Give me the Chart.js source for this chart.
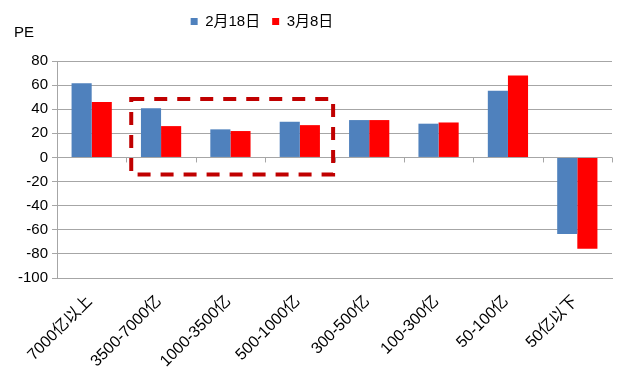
<!DOCTYPE html>
<html><head><meta charset="utf-8">
<script src="https://cdn.jsdelivr.net/npm/chart.js@4/dist/chart.umd.min.js"></script>
<style>
html,body{margin:0;padding:0;background:#fff;}
#wrap{position:relative;width:635px;height:381px;}
#pe{position:absolute;left:14px;top:23px;font:15px "Liberation Sans","Noto Sans CJK SC",sans-serif;color:#000;}
</style></head>
<body>
<div id="wrap"><canvas id="c" width="635" height="381"></canvas><div id="pe">PE</div></div>
<script>
const categories = ['7000亿以上','3500-7000亿','1000-3500亿','500-1000亿','300-500亿','100-300亿','50-100亿','50亿以下'];
const seriesNames = ['2月18日','3月8日'];
const feb18 = [61.6, 40.8, 23.3, 29.6, 31.0, 28.0, 55.3, -63.5];
const mar8 = [46.0, 26.0, 21.9, 26.8, 31.0, 29.0, 67.9, -75.8];
const yTicks = [80, 60, 40, 20, 0, -20, -40, -60, -80, -100];

// highlight box (annotation) in data units: category index range and value range
const boxRange = {x0: 0.57, x1: 3.48, y0: 48.5, y1: -14.2};

const FONT = '"Liberation Sans","Noto Sans CJK SC",sans-serif';

const legendSpace = {
  id: 'legendSpace',
  beforeInit(chart) {
    const fit = chart.legend.fit;
    chart.legend.fit = function () { fit.call(this); this.height += 24; };
  },
  afterLayout(chart) {
    chart.legend.left -= 44; chart.legend.right -= 44;
    chart.legend.top += 2; chart.legend.bottom += 2;
  }
};

const extras = {
  id: 'extras',
  afterDatasetsDraw(chart) {
    const ctx = chart.ctx, xs = chart.scales.x, ys = chart.scales.y;
    const z = ys.getPixelForValue(0);
    ctx.save();
    ctx.strokeStyle = '#A6A6A6'; ctx.lineWidth = 1;
    ctx.beginPath();
    ctx.moveTo(xs.left, Math.round(z) + 0.5); ctx.lineTo(xs.right, Math.round(z) + 0.5);
    for (let i = 0; i <= categories.length; i++) {
      const px = Math.round(xs.getPixelForValue(i - 0.5)) + 0.5;
      ctx.moveTo(px, z); ctx.lineTo(px, z + 5);
    }
    ctx.stroke();
    const x0 = xs.getPixelForValue(boxRange.x0), x1 = xs.getPixelForValue(boxRange.x1);
    const y0 = ys.getPixelForValue(boxRange.y0), y1 = ys.getPixelForValue(boxRange.y1);
    ctx.strokeStyle = '#C00000'; ctx.lineWidth = 4; ctx.setLineDash([13, 10]);
    ctx.strokeRect(x0, y0, x1 - x0, y1 - y0);
    ctx.restore();
  }
};

new Chart(document.getElementById('c'), {
  type: 'bar',
  data: {
    labels: categories,
    datasets: [
      {label: seriesNames[0], data: feb18, backgroundColor: '#4F81BD', borderWidth: 0},
      {label: seriesNames[1], data: mar8, backgroundColor: '#FF0000', borderWidth: 0}
    ]
  },
  options: {
    responsive: false,
    animation: false,
    devicePixelRatio: 1,
    layout: {padding: {left: 0, right: 23, top: 0, bottom: 0}},
    datasets: {bar: {categoryPercentage: 0.58, barPercentage: 1}},
    plugins: {
      legend: {
        display: true, position: 'top',
        labels: {boxWidth: 7, boxHeight: 7, padding: 12, color: '#000', font: {size: 15, family: FONT}}
      },
      tooltip: {enabled: false},
      title: {display: false}
    },
    scales: {
      x: {
        offset: true,
        grid: {display: false, drawTicks: false},
        border: {display: true, color: '#A6A6A6'},
        ticks: {maxRotation: 45, minRotation: 45, labelOffset: -2, color: '#000', font: {size: 16, family: FONT}, padding: 14},
        afterFit(s) { s.height = 103; }
      },
      y: {
        min: -100, max: 80,
        afterBuildTicks(s) { s.ticks = yTicks.map(v => ({value: v})); },
        grid: {color: '#A6A6A6', lineWidth: 1, tickLength: 5, drawTicks: true},
        border: {display: true, color: '#A6A6A6'},
        ticks: {color: '#000', font: {size: 15, family: FONT}, padding: 4},
        afterFit(s) { s.width = 57; }
      }
    }
  },
  plugins: [legendSpace, extras]
});
</script>
</body></html>
